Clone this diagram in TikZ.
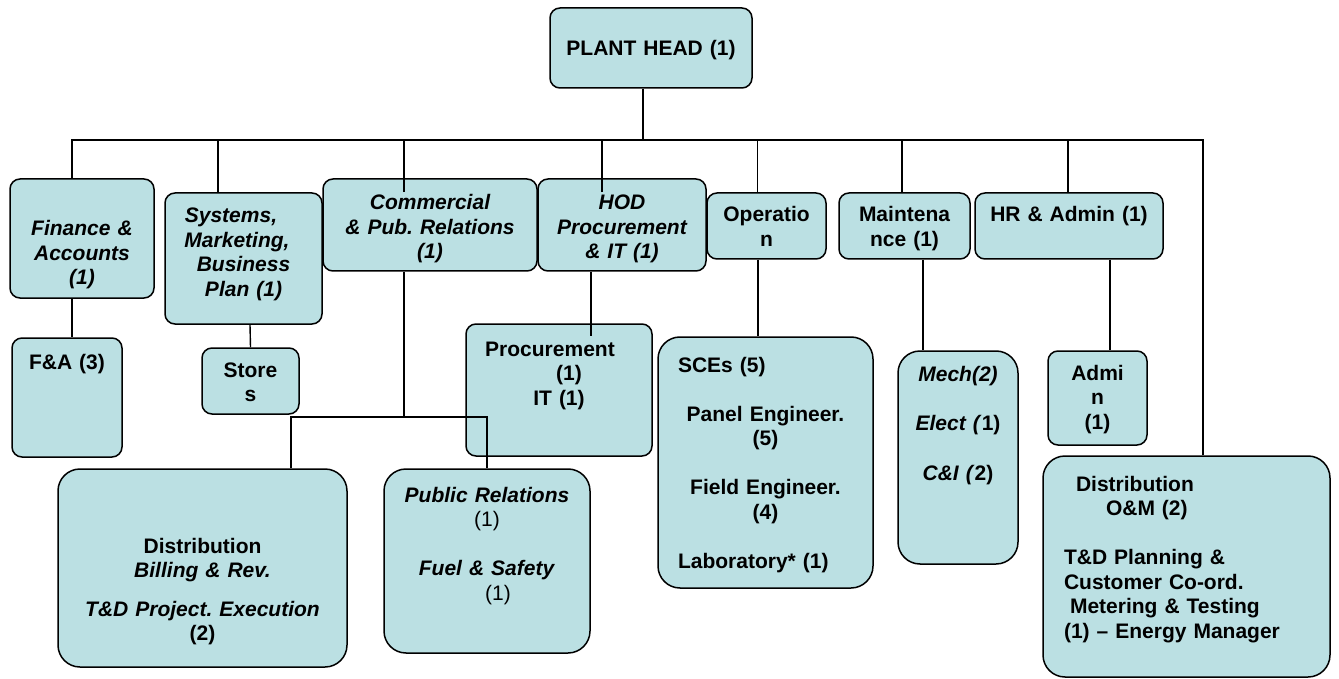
\documentclass[tikz,border=0pt]{standalone}
\usepackage{fontspec}
\setmainfont{Liberation Sans}
\usepackage{tikz}
\usetikzlibrary{positioning}
\definecolor{unitfill}{RGB}{187, 224, 227}
\frenchspacing

\begin{document}
\begin{tikzpicture}[x=1pt, y=-1pt,
    box/.style={rectangle, rounded corners=10pt, draw, line width=1.5pt, fill=unitfill,
                inner sep=0pt, align=center, text height=0pt, text depth=0pt,
                font=\fontsize{21}{24.5}\selectfont\bfseries},
    big/.style={rounded corners=22pt},
    link/.style={line width=1.4pt}]
    \useasboundingbox (0, 0) rectangle (1339, 679);

    % top level
    \node[box, minimum width=202pt, minimum height=80pt, text width=190pt, text height=16pt] (head) at (651, 48) {PLANT HEAD (1)};

    % heads of department
    \node[box, minimum width=144pt, minimum height=119pt, text width=134pt, text depth=5pt] (fin) at (82, 238.5) {\itshape Finance \&\\Accounts\\(1)};
    \node[box, minimum width=157pt, minimum height=131pt, text width=147pt, text depth=71pt] (sys) at (243.5, 258.5)
        {\itshape Systems,\kern25pt\\Marketing,\kern13pt\\Business\\Plan (1)};
    \node[box, minimum width=214pt, minimum height=92pt, text width=204pt, text depth=30pt] (comm) at (430, 225) {\itshape Commercial\\\& Pub. Relations\\(1)};
    \node[box, minimum width=168pt, minimum height=92pt, text width=158pt, text depth=30pt] (hod) at (622, 225) {\itshape HOD\\Procurement\\\& IT (1)};
    \node[box, minimum width=119pt, minimum height=66pt, text width=109pt, text depth=8pt] (op) at (766.5, 226) {Operatio\\n};
    \node[box, minimum width=131pt, minimum height=66pt, text width=121pt, text depth=8pt] (mnt) at (904.5, 226) {Maintena\\nce (1)};
    \node[box, minimum width=188pt, minimum height=66pt, text width=178pt, text depth=8pt] (hr) at (1069, 226) {HR \& Admin (1)};

    % sections
    \node[box, minimum width=110pt, minimum height=119pt, text width=100pt, text depth=57pt] (fa) at (67, 397.5) {F\&A (3)};
    \node[box, minimum width=97pt, minimum height=66pt, text width=87pt, text depth=8pt] (st) at (250.5, 381) {Store\\s};
    \node[box, minimum width=186pt, minimum height=132pt, text width=176pt, text depth=68pt] (proc) at (559, 390) {Procurement\kern18pt\\\hspace*{20pt}(1)\\IT (1)};
    \node[box, big, minimum width=215pt, minimum height=251pt, text width=175pt, text depth=181pt] (sce) at (765.5, 462.5)
        {\makebox[175pt][l]{SCEs (5)}\\[24.5pt]Panel Engineer.\\(5)\\[24.5pt]Field Engineer.\\(4)\\[24.5pt]\makebox[175pt][l]{Laboratory* (1)}};
    \node[box, big, minimum width=120pt, minimum height=213pt, text width=110pt, text depth=153pt] (mech) at (958, 457.5)
        {\textit{Mech(2)}\\[24.5pt]\textit{Elect (}1)\\[26pt]\textit{C\&I (}2)};
    \node[box, minimum width=99pt, minimum height=94pt, text width=89pt, text depth=36pt] (adm) at (1097.5, 398) {Admi\\n\\(1)};
    \node[box, big, minimum width=289pt, minimum height=198pt, text width=270pt, text depth=30pt] (db) at (202.5, 568)
        {Distribution\\\textit{Billing \& Rev.}\\[14pt]\textit{T\&D Project. Execution}\\(2)};
    \node[box, big, minimum width=206pt, minimum height=184pt, text width=196pt, text depth=118pt] (pr) at (487, 561)
        {\textit{Public Relations}\\\textmd{(1)}\\[24.5pt]\textit{Fuel \& Safety}\\\hspace*{22pt}\textmd{(1)}};
    \node[box, big, align=left, minimum width=287pt, minimum height=221pt, text width=245pt, text depth=151pt] (dom) at (1186.5, 566.5)
        {\hspace*{12pt}Distribution\\\hspace*{42pt}O\&M (2)\\[24.5pt]T\&D Planning \&\\Customer Co-ord.\\\hspace*{6pt}Metering \& Testing\\(1) -- Energy Manager};

    % connectors
    \coordinate (bus) at (643, 140);
    \draw[link] ([xshift=-8pt]head.south) -- (bus);
    \foreach \n/\dx/\dy in {fin/-10/0, sys/-25.5/0, comm/-26/-14, hod/-20/-14, op/-9/0, mnt/-2.5/0, hr/-1/0, dom/16.5/0}
        \draw[link] ([xshift=\dx pt, yshift=\dy pt]\n.north) |- (bus);

    \draw[link] ([xshift=-10pt]fin.south) -- ([xshift=5pt]fa.north);
    \draw[link] ([xshift=6.5pt]sys.south) -- (st.north);
    \coordinate (split) at (404, 417);
    \draw[link] ([xshift=-26pt]comm.south) -- (split);
    \draw[link] ([xshift=88.5pt]db.north) |- (split) -| (pr.north);
    \draw[link] ([xshift=-31pt]hod.south) -- ([xshift=32pt, yshift=-13pt]proc.north);
    \draw[link] ([xshift=-8.5pt]op.south) -- ([xshift=-7.5pt]sce.north);
    \draw[link] ([xshift=18.5pt]mnt.south) -- ([xshift=-35pt]mech.north);
    \draw[link] ([xshift=41pt]hr.south) -- ([xshift=12.5pt]adm.north);
\end{tikzpicture}
\end{document}
